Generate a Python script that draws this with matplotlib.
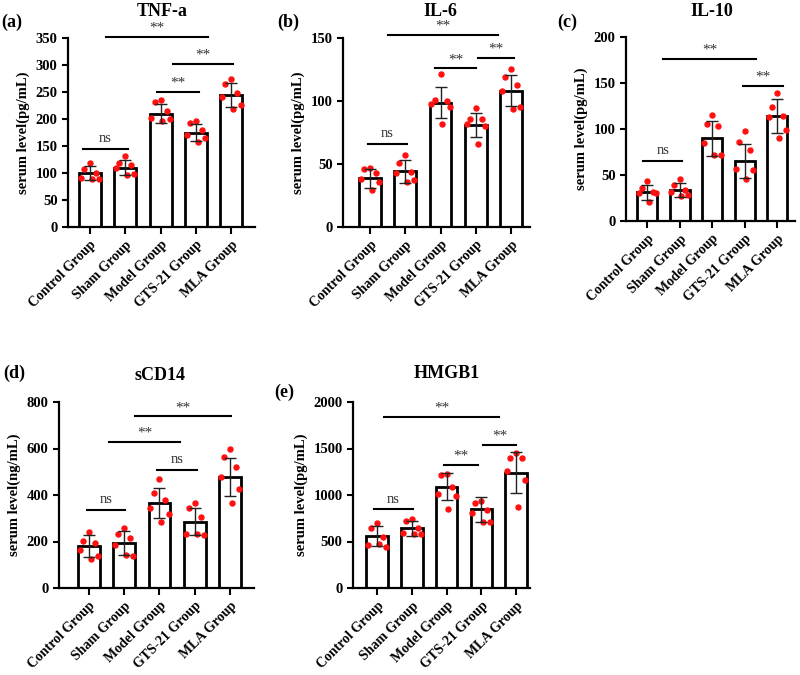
import numpy as np
import matplotlib.pyplot as plt

plt.rcParams['font.family'] = ['Liberation Serif', 'DejaVu Serif']

groups = ['Control Group', 'Sham Group', 'Model Group', 'GTS-21 Group', 'MLA Group']

# --- data (mean, sd, individual points) ---
tnf_mean = [100, 110, 210, 175, 245]
tnf_sd = [13, 14, 18, 16, 22]
tnf_pts = [[118, 108, 100, 91, 89, 88],
           [132, 119, 115, 110, 99, 96],
           [235, 232, 215, 202, 200, 196],
           [197, 192, 180, 170, 165, 158],
           [275, 265, 248, 240, 225, 218]]

il6_mean = [38.5, 44.3, 98.8, 81, 108.3]
il6_sd = [7.2, 9.2, 12.4, 9.3, 12.5]
il6_pts = [[47, 46, 43, 38, 36, 29],
           [57, 51, 44, 43, 37, 36],
           [121.6, 101, 100, 98, 95.5, 82],
           [94.8, 85.7, 85.7, 82, 80, 66],
           [125.3, 119, 112.8, 108.3, 95.6, 93.4]]

il10_mean = [31.3, 33.5, 89.8, 65.5, 114.5]
il10_sd = [8, 7.8, 18.7, 18.5, 18.5]
il10_pts = [[44, 36, 32, 30.5, 30, 20.7],
            [45.8, 39, 34, 32, 28, 27.6],
            [115, 105.5, 103, 85, 72, 71.6],
            [97.8, 86, 77, 57, 55, 45.5],
            [139.6, 124, 114, 113.5, 99, 89.8]]

scd14_mean = [182, 194, 365, 286, 478]
scd14_sd = [47, 51, 66, 56, 82]
scd14_pts = [[243, 203, 195, 162, 136, 124],
             [260, 234, 213, 184, 137, 141],
             [468, 407, 378, 342, 320, 282],
             [364, 345, 306, 231, 230, 231],
             [596, 562, 522, 478, 424, 364]]

hmgb1_mean = [561, 640, 1090, 845, 1241]
hmgb1_sd = [108, 79, 148, 132, 223]
hmgb1_pts = [[701, 647, 550, 460, 442, 478],
             [737, 719, 640, 594, 586, 579],
             [1227, 1219, 1090, 1011, 989, 849],
             [939, 910, 838, 802, 712, 712],
             [1450, 1396, 1396, 1259, 1162, 867]]

# significance brackets: (x start, x end, y, label)
tnf_sig = [(-0.2, 1.08, 144, 'ns'), (1.9, 3.09, 250, '**'),
           (2.35, 4.05, 302, '**'), (0.45, 3.34, 352, '**')]
il6_sig = [(-0.06, 1.05, 65.8, 'ns'), (1.85, 3.01, 125.8, '**'),
           (3.07, 4.09, 134, '**'), (0.51, 3.64, 152.6, '**')]
il10_sig = [(-0.12, 1.08, 65.5, 'ns'), (0.49, 3.35, 176, '**'),
            (2.95, 4.18, 147, '**')]
scd14_sig = [(-0.06, 1.02, 335, 'ns'), (1.93, 3.06, 507, 'ns'),
             (0.57, 2.58, 629, '**'), (1.3, 4.03, 738.5, '**')]
hmgb1_sig = [(-0.09, 1.04, 845, 'ns'), (1.93, 2.91, 1324, '**'),
             (3.05, 4.0, 1540, '**'), (0.2, 3.51, 1838, '**')]

W, H = 800, 675
fig = plt.figure(figsize=(8, 6.75), dpi=100)


def px_axes(left, right, top, bottom):
    return fig.add_axes([left / W, 1 - bottom / H, (right - left) / W, (bottom - top) / H])


jit = [0.0, -0.17, 0.17, -0.26, 0.26, 0.05]


def panel(box, xlim, mean, sd, pts, sig, ymax, step, ylabel, title, tpos, letter, lpos):
    ax = px_axes(*box)
    x = np.arange(len(groups))
    ax.bar(x, mean, width=0.62, color='white', edgecolor='black', linewidth=2, zorder=2)
    for i, vals in enumerate(pts):
        ax.plot(x[i] + np.array(jit[:len(vals)]), vals, 'o', color='#ff1010',
                markersize=3.6, zorder=4, clip_on=False)
    ax.errorbar(x, mean, yerr=sd, fmt='none', ecolor='#222222', elinewidth=1,
                capsize=4.5, capthick=1, zorder=5)
    ax.set_xlim(*xlim)
    ax.set_ylim(0, ymax)
    ax.set_yticks(np.arange(0, ymax + 1, step))
    ax.set_xticks(x)
    ax.set_xticklabels(groups, rotation=45, ha='right', rotation_mode='anchor',
                       fontsize=10, fontweight='bold')
    for lab in ax.get_yticklabels():
        lab.set_fontweight('bold')
        lab.set_fontsize(10.5)
    ax.tick_params(width=1.5, length=4, direction='out')
    ax.tick_params(axis='x', length=5, pad=3)
    for s in ['top', 'right']:
        ax.spines[s].set_visible(False)
    for s in ['left', 'bottom']:
        ax.spines[s].set_linewidth(1.6)
    ax.set_ylabel(ylabel, fontsize=10.5, fontweight='bold', labelpad=4)
    for x1, x2, y, t in sig:
        ax.plot([x1, x2], [y, y], color='black', linewidth=1.5, clip_on=False)
        off = 0.012 if t == '**' else 0.02
        ax.text((x1 + x2) / 2, y + ymax * off, t, ha='center', va='bottom',
                fontsize=10.5 if t == 'ns' else 11, color='#333333')
    fig.text(tpos[0] / W, 1 - tpos[1] / H, title, ha='center', va='center',
             fontsize=13, fontweight='bold')
    fig.text(lpos[0] / W, 1 - lpos[1] / H, letter, ha='left', va='center',
             fontsize=13, fontweight='bold')
    return ax


panel((68, 255, 38, 227), (-0.62, 4.67), tnf_mean, tnf_sd, tnf_pts, tnf_sig, 350, 50,
      'serum level(pg/mL)', 'TNF-a', (162, 11), '(a)', (1, 22))
panel((343, 530, 38, 227), (-0.77, 4.54), il6_mean, il6_sd, il6_pts, il6_sig, 150, 50,
      'serum level(pg/mL)', 'IL-6', (440, 11), '(b)', (277, 22))
panel((626, 795, 37, 221), (-0.65, 4.55), il10_mean, il10_sd, il10_pts, il10_sig, 200, 50,
      'serum level(pg/mL)', 'IL-10', (712, 12), '(c)', (557, 22))
panel((59, 254, 402, 588), (-0.85, 4.68), scd14_mean, scd14_sd, scd14_pts, scd14_sig, 800, 200,
      'serum level(ng/mL)', 'sCD14', (160, 375), '(d)', (3, 373))
panel((353, 530, 402, 588), (-0.69, 4.40), hmgb1_mean, hmgb1_sd, hmgb1_pts, hmgb1_sig, 2000, 500,
      'serum level(pg/mL)', 'HMGB1', (447, 373), '(e)', (274, 392))

fig.savefig('out.png', dpi=100)
